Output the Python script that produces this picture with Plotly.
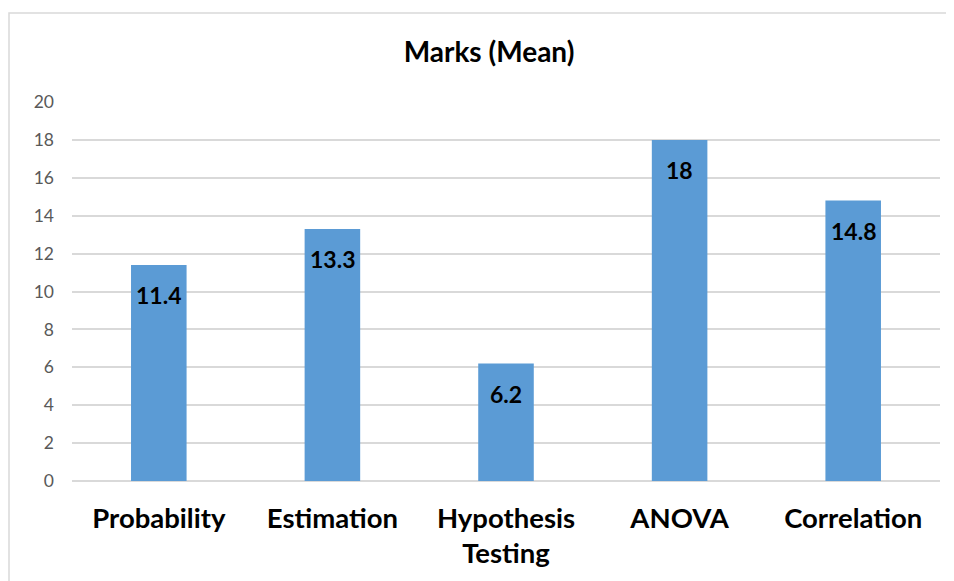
import plotly.graph_objects as go

categories = ["Probability", "Estimation", "Hypothesis<br>Testing", "ANOVA", "Correlation"]
values = [11.4, 13.3, 6.2, 18, 14.8]
labels = ["11.4", "13.3", "6.2", "18", "14.8"]
y_ticks = [0, 2, 4, 6, 8, 10, 12, 14, 16, 18, 20]

FONT = "Lato, 'Open Sans', sans-serif"

# page has an 8px body offset; plot area target (screen): x 72..940, y 102..481
OFF = 8
L, R_EDGE, T, B_EDGE = 72 - OFF, 940 - OFF, 102 - OFF, 481 - OFF
W, H = 954, 581
PW, PH = R_EDGE - L, B_EDGE - T

fig = go.Figure()
fig.add_trace(go.Bar(
    x=categories, y=values,
    marker=dict(color="#5B9BD5", line=dict(width=0)),
    hoverinfo="skip",
))

for c, v, t in zip(categories, values, labels):
    fig.add_annotation(x=c, y=v, text=f"<b>{t}</b>", showarrow=False,
                       yanchor="middle", yshift=-30,
                       font=dict(family=FONT, size=23, color="#000000"))

fig.update_layout(
    width=W, height=H,
    margin=dict(l=L, r=W - R_EDGE, t=T, b=H - B_EDGE, pad=0),
    paper_bgcolor="white", plot_bgcolor="white",
    showlegend=False,
    bargap=0.68,
    title=dict(text="<b>Marks (Mean)</b>", x=(489 - OFF) / W, xanchor="center",
               y=1 - (52 - OFF) / H, yanchor="middle",
               font=dict(family=FONT, size=28, color="#000000")),
    xaxis=dict(showgrid=False, showline=False, ticks="",
               tickfont=dict(family=FONT, size=27.5, color="#000000", weight="bold"),
               ticklabelstandoff=18),
    yaxis=dict(range=[0, 20], tickvals=y_ticks, showgrid=True,
               gridcolor="#D9D9D9", gridwidth=1.5,
               zeroline=True, zerolinecolor="#D9D9D9", zerolinewidth=2,
               showline=False, ticks="",
               tickfont=dict(family=FONT, size=17.5, color="#595959"),
               ticklabelstandoff=17),
    shapes=[dict(type="rect", xref="paper", yref="paper",
                 x0=(1 - L) / PW, x1=1.2, y0=-0.5, y1=(B_EDGE - (13 - OFF)) / PH,
                 line=dict(color="#D9D9D9", width=1.5), fillcolor="rgba(0,0,0,0)",
                 layer="below")],
)

fig.write_html("out.html")
